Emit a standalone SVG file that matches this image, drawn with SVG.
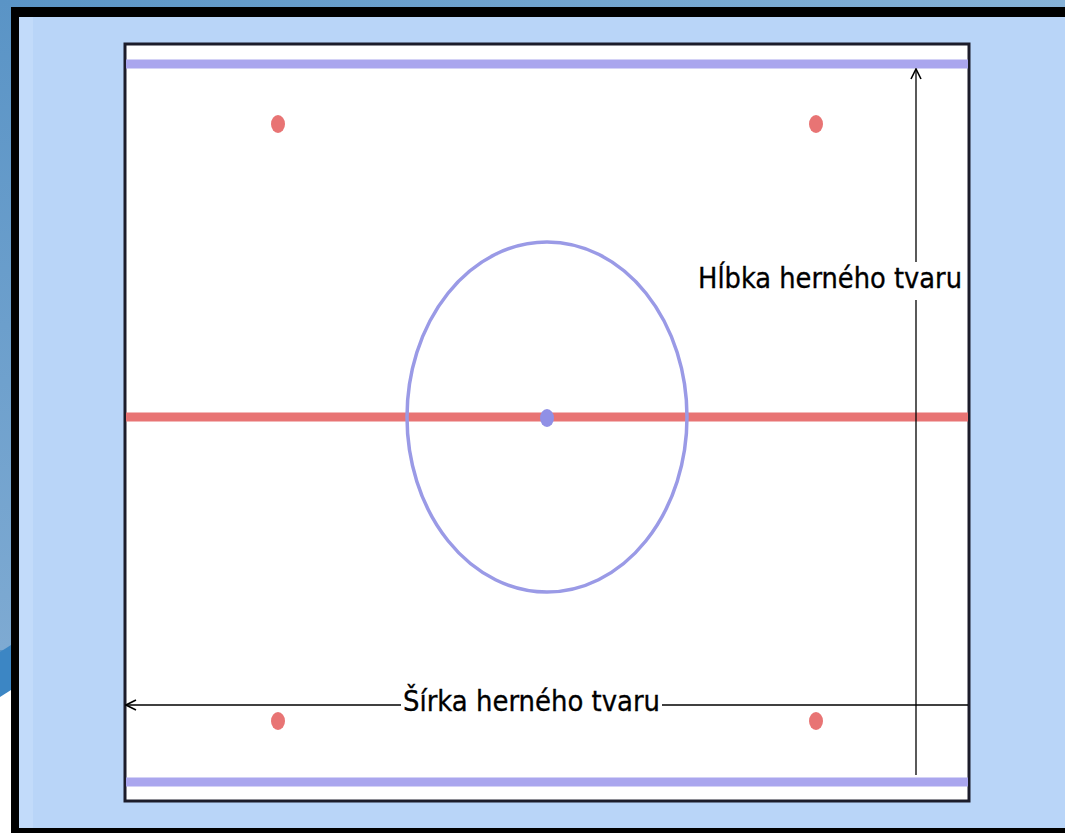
<svg xmlns="http://www.w3.org/2000/svg" width="1065" height="833" viewBox="0 0 1065 833">
<defs>
<linearGradient id="topg" x1="0" y1="0" x2="1" y2="0">
<stop offset="0" stop-color="#5a94c6"/>
<stop offset="1" stop-color="#86b2d8"/>
</linearGradient>
<linearGradient id="leftg" x1="0" y1="0" x2="0" y2="1">
<stop offset="0" stop-color="#5a94c6"/>
<stop offset="1" stop-color="#7eaad2"/>
</linearGradient>
<marker id="ah" viewBox="0 0 12 12" refX="11" refY="6" markerWidth="12" markerHeight="12" markerUnits="userSpaceOnUse" orient="auto">
<path d="M1,1 L11,6 L1,11" fill="none" stroke="#000" stroke-width="1.6"/>
</marker>
<style>
.bar{stroke-width:9;fill:none}
.lav{stroke:#aaa6ee}
.red{stroke:#e87474}
.dot{fill:#e87474}
.dim{stroke:#000;stroke-width:1.3;fill:none}
.lbl{font-family:"DejaVu Sans Condensed","DejaVu Sans","Liberation Sans",sans-serif;font-size:28px;fill:#000;stroke:#000;stroke-width:0.3}
</style>
</defs>
<g id="background">
<rect x="0" y="0" width="1065" height="833" fill="url(#topg)"/>
<rect x="0" y="0" width="11" height="650" fill="url(#leftg)"/>
<rect x="0" y="690" width="11" height="143" fill="#ffffff"/>
<path d="M0,652 L11,645 L11,690 L0,697 Z" fill="#3c86c4"/>
<rect x="11" y="7" width="1054" height="826" fill="#000"/>
<rect x="19" y="17" width="1046" height="811" fill="#b9d5f8"/>
<rect x="19" y="17" width="14" height="811" fill="#c2dbfa"/>
</g>
<g id="field">
<rect x="125" y="44" width="844" height="757" fill="#ffffff" stroke="#1c1c2a" stroke-width="3"/>
</g>
<g id="lines">
<line class="bar lav" x1="126" y1="64" x2="968" y2="64"/>
<line class="bar lav" x1="126" y1="782" x2="968" y2="782"/>
<line class="bar red" x1="126" y1="417" x2="968" y2="417"/>
</g>
<g id="circle">
<ellipse cx="547" cy="417" rx="140" ry="175" fill="none" stroke="#9a9ae6" stroke-width="3.5"/>
<ellipse cx="547" cy="418" rx="7" ry="9" fill="#9090e6"/>
</g>
<g id="dots">
<ellipse class="dot" cx="278" cy="124" rx="7" ry="9"/>
<ellipse class="dot" cx="816" cy="124" rx="7" ry="9"/>
<ellipse class="dot" cx="278" cy="721" rx="7" ry="9"/>
<ellipse class="dot" cx="816" cy="721" rx="7" ry="9"/>
</g>
<g id="connectors">
<line class="dim" x1="916" y1="775" x2="916" y2="300"/>
<line class="dim" x1="916" y1="262" x2="916" y2="69" marker-end="url(#ah)"/>
<line class="dim" x1="968" y1="705" x2="662" y2="705"/>
<line class="dim" x1="401" y1="705" x2="126" y2="705" marker-end="url(#ah)"/>
</g>
<g id="labels">
<rect x="696" y="262" width="268" height="36" fill="#ffffff"/>
<text class="lbl" x="698" y="288" textLength="264" lengthAdjust="spacingAndGlyphs">Hĺbka herného tvaru</text>
<text class="lbl" x="403" y="711" textLength="257" lengthAdjust="spacingAndGlyphs">Šírka herného tvaru</text>
</g>
</svg>
